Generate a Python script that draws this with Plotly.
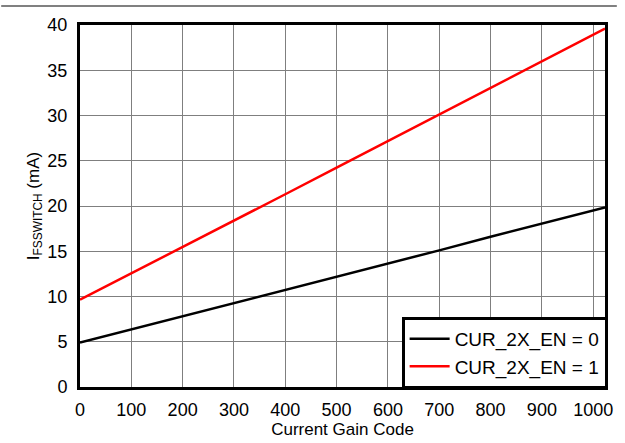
import plotly.graph_objects as go

codes = [0, 100, 200, 300, 400, 500, 600, 700, 800, 900, 1023]
i_2x_off = [4.9, 6.35, 7.8, 9.25, 10.7, 12.2, 13.65, 15.1, 16.6, 18.05, 19.85]
i_2x_on = [9.65, 12.55, 15.45, 18.4, 21.3, 24.25, 27.2, 30.1, 33.1, 36.0, 39.6]
names = ["CUR_2X_EN = 0", "CUR_2X_EN = 1"]

W, H = 625, 443
L, R, T, B = 80, 12, 25, 55
pw, ph = W - L - R, H - T - B

fig = go.Figure()
fig.add_trace(go.Scatter(x=codes, y=i_2x_off, mode="lines", name=names[0],
                         line=dict(color="black", width=2.5)))
fig.add_trace(go.Scatter(x=codes, y=i_2x_on, mode="lines", name=names[1],
                         line=dict(color="#ff0000", width=2.5)))

font = "Liberation Sans, Arial, sans-serif"
axis_common = dict(showline=True, mirror=True, linecolor="black", linewidth=3,
                   showgrid=True, gridcolor="#7f7f7f", gridwidth=1,
                   zeroline=False, ticks="", tickfont=dict(size=18, color="black", family=font))

fig.update_xaxes(range=[0, 1023], dtick=100, tick0=0, ticklabelstandoff=4,
                 title=dict(text="Current Gain Code", font=dict(size=17, color="black", family=font), standoff=0),
                 **axis_common)
fig.update_yaxes(range=[0, 40], dtick=5, tick0=0, ticklabelstandoff=6,
                 title=dict(text="I<sub>FSSWITCH</sub> (mA)", font=dict(size=17, color="black", family=font), standoff=4),
                 **axis_common)

fig.add_shape(type="line", xref="paper", yref="paper",
              x0=-L / pw, x1=(W - L) / pw, y0=(H - B - 6) / ph, y1=(H - B - 6) / ph,
              line=dict(color="#808080", width=2))

fig.update_layout(
    width=W, height=H,
    margin=dict(l=L, r=R, t=T, b=B),
    paper_bgcolor="white", plot_bgcolor="white",
    font=dict(family=font, color="black"),
    legend=dict(x=1.005, y=-0.005, xanchor="right", yanchor="bottom",
                bordercolor="black", borderwidth=3, bgcolor="white",
                font=dict(size=19, color="black", family=font),
                itemwidth=40, tracegroupgap=0),
    showlegend=True,
)

fig.write_html("out.html")
